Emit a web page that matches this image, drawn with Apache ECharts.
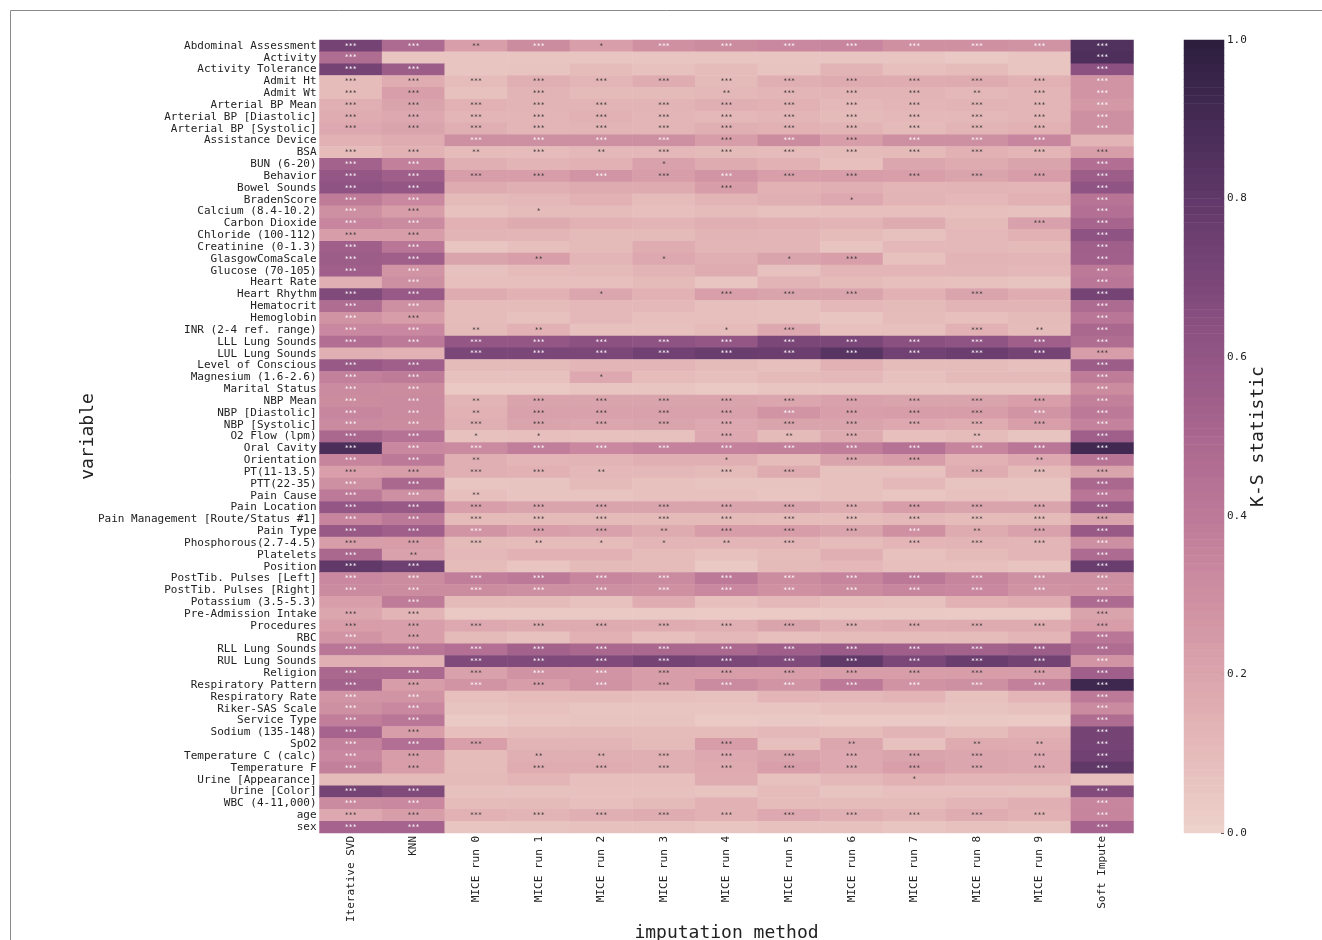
<!DOCTYPE html>
<html>
<head>
<meta charset="utf-8">
<title>K-S statistic heatmap</title>
<script src="https://cdn.jsdelivr.net/npm/echarts@6/dist/echarts.min.js"></script>
<style>
  html, body { margin: 0; padding: 0; background: #fff; }
  #main { width: 1322px; height: 940px; }
</style>
</head>
<body>
<div id="main"></div>
<script>
var variables = [
  'Abdominal Assessment', 'Activity', 'Activity Tolerance', 'Admit Ht', 'Admit Wt',
  'Arterial BP Mean', 'Arterial BP [Diastolic]', 'Arterial BP [Systolic]', 'Assistance Device', 'BSA',
  'BUN (6-20)', 'Behavior', 'Bowel Sounds', 'BradenScore', 'Calcium (8.4-10.2)',
  'Carbon Dioxide', 'Chloride (100-112)', 'Creatinine (0-1.3)', 'GlasgowComaScale', 'Glucose (70-105)',
  'Heart Rate', 'Heart Rhythm', 'Hematocrit', 'Hemoglobin', 'INR (2-4 ref. range)',
  'LLL Lung Sounds', 'LUL Lung Sounds', 'Level of Conscious', 'Magnesium (1.6-2.6)', 'Marital Status',
  'NBP Mean', 'NBP [Diastolic]', 'NBP [Systolic]', 'O2 Flow (lpm)', 'Oral Cavity',
  'Orientation', 'PT(11-13.5)', 'PTT(22-35)', 'Pain Cause', 'Pain Location',
  'Pain Management [Route/Status #1]', 'Pain Type', 'Phosphorous(2.7-4.5)', 'Platelets', 'Position',
  'PostTib. Pulses [Left]', 'PostTib. Pulses [Right]', 'Potassium (3.5-5.3)', 'Pre-Admission Intake', 'Procedures',
  'RBC', 'RLL Lung Sounds', 'RUL Lung Sounds', 'Religion', 'Respiratory Pattern',
  'Respiratory Rate', 'Riker-SAS Scale', 'Service Type', 'Sodium (135-148)', 'SpO2',
  'Temperature C (calc)', 'Temperature F', 'Urine [Appearance]', 'Urine [Color]', 'WBC (4-11,000)',
  'age', 'sex'
];

var methods = [
  'Iterative SVD', 'KNN', 'MICE run 0', 'MICE run 1', 'MICE run 2', 'MICE run 3', 'MICE run 4',
  'MICE run 5', 'MICE run 6', 'MICE run 7', 'MICE run 8', 'MICE run 9', 'Soft Impute'
];

var colorbarTicks = [0, 0.2, 0.4, 0.6, 0.8, 1];

// one row per variable, one column per method
var ksValues = [
  [.72,.48,.22,.31,.22,.29,.31,.33,.34,.29,.29,.28,.86],
  [.47,.05,.05,.05,.05,.05,.05,.05,.05,.05,.04,.05,.87],
  [.72,.56,.05,.06,.09,.07,.09,.06,.13,.08,.09,.05,.63],
  [.09,.16,.09,.15,.12,.16,.10,.15,.17,.16,.17,.14,.27],
  [.09,.22,.07,.13,.10,.10,.11,.12,.13,.13,.11,.12,.27],
  [.15,.20,.14,.13,.13,.13,.15,.14,.11,.12,.13,.12,.25],
  [.16,.18,.12,.12,.14,.12,.11,.12,.10,.11,.11,.12,.30],
  [.18,.20,.15,.12,.13,.12,.15,.14,.13,.10,.13,.14,.30],
  [.14,.16,.30,.30,.30,.30,.23,.31,.23,.30,.30,.34,.13],
  [.09,.14,.09,.09,.11,.11,.10,.09,.09,.10,.14,.12,.23],
  [.53,.37,.15,.13,.14,.21,.17,.14,.08,.19,.17,.20,.46],
  [.60,.55,.23,.23,.27,.23,.27,.22,.23,.22,.20,.23,.56],
  [.62,.60,.17,.15,.17,.17,.23,.14,.15,.12,.13,.12,.61],
  [.39,.33,.10,.11,.14,.09,.13,.15,.18,.13,.11,.14,.43],
  [.30,.23,.07,.09,.09,.08,.09,.07,.08,.08,.08,.07,.45],
  [.34,.32,.14,.17,.14,.13,.15,.14,.13,.17,.10,.21,.51],
  [.23,.23,.13,.12,.10,.10,.13,.12,.09,.07,.11,.14,.62],
  [.55,.42,.05,.08,.10,.16,.12,.12,.06,.11,.11,.10,.55],
  [.56,.55,.20,.22,.12,.18,.15,.20,.22,.07,.13,.12,.54],
  [.55,.27,.07,.09,.10,.13,.16,.07,.12,.12,.12,.11,.40],
  [.15,.30,.08,.08,.08,.10,.05,.13,.10,.08,.07,.06,.42],
  [.68,.58,.17,.14,.19,.14,.22,.20,.20,.14,.20,.16,.72],
  [.47,.30,.09,.09,.11,.11,.08,.07,.11,.10,.13,.13,.48],
  [.28,.23,.09,.07,.11,.08,.08,.07,.05,.09,.08,.10,.42],
  [.33,.33,.10,.14,.07,.07,.09,.18,.07,.08,.14,.09,.50],
  [.46,.40,.60,.60,.63,.62,.60,.70,.70,.64,.61,.55,.47],
  [.15,.14,.70,.70,.70,.74,.77,.76,.83,.74,.76,.72,.23],
  [.58,.55,.10,.10,.12,.12,.10,.08,.14,.09,.09,.08,.56],
  [.37,.39,.07,.07,.18,.09,.08,.10,.11,.07,.10,.10,.39],
  [.32,.31,.04,.04,.05,.05,.04,.05,.05,.05,.05,.05,.31],
  [.31,.32,.13,.20,.20,.20,.20,.19,.21,.20,.20,.22,.37],
  [.34,.32,.14,.21,.21,.21,.21,.27,.22,.23,.23,.27,.40],
  [.32,.31,.15,.20,.19,.20,.18,.20,.20,.18,.16,.22,.36],
  [.50,.44,.07,.08,.07,.07,.18,.10,.17,.08,.09,.06,.55],
  [.88,.33,.32,.38,.33,.36,.36,.37,.38,.44,.35,.42,.92],
  [.35,.40,.15,.12,.13,.15,.15,.09,.20,.23,.14,.18,.43],
  [.22,.23,.15,.14,.11,.11,.10,.17,.07,.07,.16,.10,.20],
  [.30,.50,.05,.06,.10,.07,.06,.06,.07,.11,.06,.06,.50],
  [.40,.30,.08,.06,.06,.07,.07,.05,.07,.05,.07,.06,.42],
  [.60,.58,.22,.20,.20,.20,.20,.20,.17,.23,.20,.20,.58],
  [.35,.41,.10,.10,.10,.10,.10,.09,.09,.11,.09,.10,.20],
  [.58,.55,.27,.22,.21,.17,.23,.23,.20,.29,.17,.21,.58],
  [.23,.23,.10,.09,.09,.12,.12,.12,.09,.12,.13,.12,.30],
  [.50,.21,.11,.14,.14,.09,.07,.09,.15,.07,.10,.12,.48],
  [.80,.75,.09,.05,.10,.09,.04,.10,.11,.08,.08,.06,.77],
  [.33,.31,.38,.40,.34,.32,.40,.31,.35,.41,.35,.30,.30],
  [.32,.31,.31,.30,.30,.29,.33,.29,.31,.34,.33,.28,.29],
  [.22,.39,.10,.10,.07,.16,.08,.11,.08,.07,.14,.16,.48],
  [.19,.13,.04,.04,.04,.04,.03,.03,.04,.04,.03,.03,.20],
  [.23,.22,.18,.17,.17,.16,.15,.20,.15,.16,.17,.17,.23],
  [.27,.22,.10,.07,.14,.08,.11,.08,.09,.09,.09,.12,.42],
  [.42,.42,.45,.53,.50,.50,.49,.55,.57,.55,.53,.56,.47],
  [.15,.14,.68,.68,.68,.72,.70,.68,.80,.70,.77,.73,.27],
  [.50,.49,.21,.28,.27,.23,.23,.23,.23,.23,.23,.23,.55],
  [.53,.23,.27,.23,.28,.23,.32,.27,.40,.28,.30,.37,.93],
  [.27,.27,.08,.09,.09,.08,.07,.12,.11,.13,.07,.12,.40],
  [.30,.33,.06,.07,.05,.05,.05,.05,.07,.07,.06,.07,.32],
  [.38,.42,.03,.05,.06,.06,.03,.04,.03,.03,.04,.03,.47],
  [.52,.23,.08,.09,.10,.09,.09,.11,.09,.13,.09,.14,.72],
  [.36,.46,.22,.13,.13,.10,.23,.08,.19,.07,.17,.16,.72],
  [.33,.23,.09,.15,.15,.15,.18,.20,.18,.20,.19,.18,.74],
  [.37,.23,.09,.16,.16,.15,.17,.22,.18,.22,.19,.18,.80],
  [.10,.10,.10,.12,.08,.08,.16,.07,.11,.14,.12,.12,.08],
  [.72,.68,.07,.07,.07,.07,.06,.09,.06,.08,.08,.07,.67],
  [.32,.33,.09,.10,.08,.10,.14,.09,.09,.09,.12,.15,.34],
  [.18,.23,.14,.13,.15,.16,.14,.18,.15,.13,.16,.14,.35],
  [.52,.52,.05,.06,.07,.07,.05,.07,.07,.05,.07,.06,.52]
];

// number of significance stars per cell, same shape as ksValues
var starCounts = [
  [3,3,2,3,1,3,3,3,3,3,3,3,3],
  [3,0,0,0,0,0,0,0,0,0,0,0,3],
  [3,3,0,0,0,0,0,0,0,0,0,0,3],
  [3,3,3,3,3,3,3,3,3,3,3,3,3],
  [3,3,0,3,0,0,2,3,3,3,2,3,3],
  [3,3,3,3,3,3,3,3,3,3,3,3,3],
  [3,3,3,3,3,3,3,3,3,3,3,3,3],
  [3,3,3,3,3,3,3,3,3,3,3,3,3],
  [0,0,3,3,3,3,3,3,3,3,3,3,0],
  [3,3,2,3,2,3,3,3,3,3,3,3,3],
  [3,3,0,0,0,1,0,0,0,0,0,0,3],
  [3,3,3,3,3,3,3,3,3,3,3,3,3],
  [3,3,0,0,0,0,3,0,0,0,0,0,3],
  [3,3,0,0,0,0,0,0,1,0,0,0,3],
  [3,3,0,1,0,0,0,0,0,0,0,0,3],
  [3,3,0,0,0,0,0,0,0,0,0,3,3],
  [3,3,0,0,0,0,0,0,0,0,0,0,3],
  [3,3,0,0,0,0,0,0,0,0,0,0,3],
  [3,3,0,2,0,1,0,1,3,0,0,0,3],
  [3,3,0,0,0,0,0,0,0,0,0,0,3],
  [0,3,0,0,0,0,0,0,0,0,0,0,3],
  [3,3,0,0,1,0,3,3,3,0,3,0,3],
  [3,3,0,0,0,0,0,0,0,0,0,0,3],
  [3,3,0,0,0,0,0,0,0,0,0,0,3],
  [3,3,2,2,0,0,1,3,0,0,3,2,3],
  [3,3,3,3,3,3,3,3,3,3,3,3,3],
  [0,0,3,3,3,3,3,3,3,3,3,3,3],
  [3,3,0,0,0,0,0,0,0,0,0,0,3],
  [3,3,0,0,1,0,0,0,0,0,0,0,3],
  [3,3,0,0,0,0,0,0,0,0,0,0,3],
  [3,3,2,3,3,3,3,3,3,3,3,3,3],
  [3,3,2,3,3,3,3,3,3,3,3,3,3],
  [3,3,3,3,3,3,3,3,3,3,3,3,3],
  [3,3,1,1,0,0,3,2,3,0,2,0,3],
  [3,3,3,3,3,3,3,3,3,3,3,3,3],
  [3,3,2,0,0,0,1,0,3,3,0,2,3],
  [3,3,3,3,2,0,3,3,0,0,3,3,3],
  [3,3,0,0,0,0,0,0,0,0,0,0,3],
  [3,3,2,0,0,0,0,0,0,0,0,0,3],
  [3,3,3,3,3,3,3,3,3,3,3,3,3],
  [3,3,3,3,3,3,3,3,3,3,3,3,3],
  [3,3,3,3,3,2,3,3,3,3,2,3,3],
  [3,3,3,2,1,1,2,3,0,3,3,3,3],
  [3,2,0,0,0,0,0,0,0,0,0,0,3],
  [3,3,0,0,0,0,0,0,0,0,0,0,3],
  [3,3,3,3,3,3,3,3,3,3,3,3,3],
  [3,3,3,3,3,3,3,3,3,3,3,3,3],
  [0,3,0,0,0,0,0,0,0,0,0,0,3],
  [3,3,0,0,0,0,0,0,0,0,0,0,3],
  [3,3,3,3,3,3,3,3,3,3,3,3,3],
  [3,3,0,0,0,0,0,0,0,0,0,0,3],
  [3,3,3,3,3,3,3,3,3,3,3,3,3],
  [0,0,3,3,3,3,3,3,3,3,3,3,3],
  [3,3,3,3,3,3,3,3,3,3,3,3,3],
  [3,3,3,3,3,3,3,3,3,3,3,3,3],
  [3,3,0,0,0,0,0,0,0,0,0,0,3],
  [3,3,0,0,0,0,0,0,0,0,0,0,3],
  [3,3,0,0,0,0,0,0,0,0,0,0,3],
  [3,3,0,0,0,0,0,0,0,0,0,0,3],
  [3,3,3,0,0,0,3,0,2,0,2,2,3],
  [3,3,0,2,2,3,3,3,3,3,3,3,3],
  [3,3,0,3,3,3,3,3,3,3,3,3,3],
  [0,0,0,0,0,0,0,0,0,1,0,0,0],
  [3,3,0,0,0,0,0,0,0,0,0,0,3],
  [3,3,0,0,0,0,0,0,0,0,0,0,3],
  [3,3,3,3,3,3,3,3,3,3,3,3,3],
  [3,3,0,0,0,0,0,0,0,0,0,0,3]
];

// seaborn default cubehelix_palette, 256 levels
function cubehelixColors() {
  var colors = []
  for (var i = 0; i < 256; i++) {
    var x = 0.85 - 0.7 * i / 255
    var a = 0.8 * x * (1 - x) / 2
    var phi = 2 * Math.PI * 0.4 * x
    var c = Math.cos(phi), s = Math.sin(phi)
    var r = x + a * (-0.14861 * c + 1.78277 * s)
    var g = x + a * (-0.29227 * c - 0.90649 * s)
    var b = x + a * (1.97294 * c)
    colors.push('rgb(' + Math.round(r * 255) + ',' + Math.round(g * 255) + ',' + Math.round(b * 255) + ')')
  }
  return colors
}

var FONT = '"DejaVu Sans Mono", monospace'
var TEXT_COLOR = '#222'

var cells = []
for (var row = 0; row < variables.length; row++) {
  for (var col = 0; col < methods.length; col++) {
    cells.push({
      value: [col, row, ksValues[row][col]],
      label: {
        // same contrast rule seaborn uses for annotations
        color: ksValues[row][col] < 0.238 ? '#333' : '#fff'
      }
    })
  }
}

// the colour bar is a one column heatmap
var BAR_LEVELS = 100
var barLevels = []
var barCells = []
for (var level = 0; level < BAR_LEVELS; level++) {
  barLevels.push(level)
  barCells.push([0, level, level / (BAR_LEVELS - 1)])
}

var myChart = echarts.init(document.getElementById('main'))

var option = {
  animation: false,
  backgroundColor: '#fff',
  graphic: [{
    type: 'polyline',
    silent: true,
    shape: { points: [[10.5, 940], [10.5, 10.5], [1322, 10.5]] },
    style: { fill: null, stroke: '#8a8a8a', lineWidth: 1 }
  }],
  grid: [
    { left: 319.5, top: 40, width: 814, height: 793, outerBoundsMode: 'none' },
    { left: 1184, top: 40, width: 40, height: 793, outerBoundsMode: 'none' }
  ],
  xAxis: [{
    type: 'category',
    data: methods,
    gridIndex: 0,
    name: 'imputation method',
    nameLocation: 'middle',
    nameGap: 91,
    nameMoveOverlap: false,
    nameTextStyle: { fontFamily: FONT, fontSize: 18, color: TEXT_COLOR },
    axisLine: { show: false },
    axisTick: { show: false },
    splitLine: { show: false },
    axisLabel: { interval: 0, rotate: 90, margin: 3, fontFamily: FONT, fontSize: 11, color: TEXT_COLOR }
  }, {
    type: 'category',
    data: ['bar'],
    gridIndex: 1,
    show: false
  }],
  yAxis: [{
    type: 'category',
    data: variables,
    inverse: true,
    gridIndex: 0,
    name: 'variable',
    nameLocation: 'middle',
    nameGap: 222,
    nameMoveOverlap: false,
    nameTextStyle: { fontFamily: FONT, fontSize: 18, color: TEXT_COLOR },
    axisLine: { show: false },
    axisTick: { show: false },
    splitLine: { show: false },
    axisLabel: { interval: 0, margin: 3, fontFamily: FONT, fontSize: 11, color: TEXT_COLOR }
  }, {
    type: 'category',
    data: barLevels,
    gridIndex: 1,
    show: false
  }, {
    type: 'value',
    gridIndex: 1,
    position: 'right',
    min: colorbarTicks[0],
    max: colorbarTicks[colorbarTicks.length - 1],
    interval: 0.2,
    name: 'K-S statistic',
    nameLocation: 'middle',
    nameGap: 25,
    nameRotate: 90,
    nameMoveOverlap: false,
    nameTextStyle: { fontFamily: FONT, fontSize: 18, color: TEXT_COLOR },
    axisLine: { show: false },
    axisTick: { show: true, inside: true, length: 3, lineStyle: { color: '#333' } },
    splitLine: { show: false },
    axisLabel: {
      margin: 3,
      fontFamily: FONT,
      fontSize: 11,
      color: TEXT_COLOR,
      formatter: function (v) { return v.toFixed(1) }
    }
  }],
  visualMap: {
    type: 'continuous',
    show: false,
    seriesIndex: [0, 1],
    dimension: 2,
    min: 0,
    max: 1,
    inRange: { color: cubehelixColors() }
  },
  series: [{
    type: 'heatmap',
    xAxisIndex: 0,
    yAxisIndex: 0,
    progressive: 0,
    data: cells,
    label: {
      show: true,
      fontFamily: FONT,
      fontSize: 6.6,
      formatter: function (p) {
        return '*'.repeat(starCounts[p.value[1]][p.value[0]])
      }
    },
    emphasis: { disabled: true }
  }, {
    type: 'heatmap',
    xAxisIndex: 1,
    yAxisIndex: 1,
    progressive: 0,
    data: barCells,
    emphasis: { disabled: true }
  }]
}

myChart.setOption(option)
</script>
</body>
</html>
